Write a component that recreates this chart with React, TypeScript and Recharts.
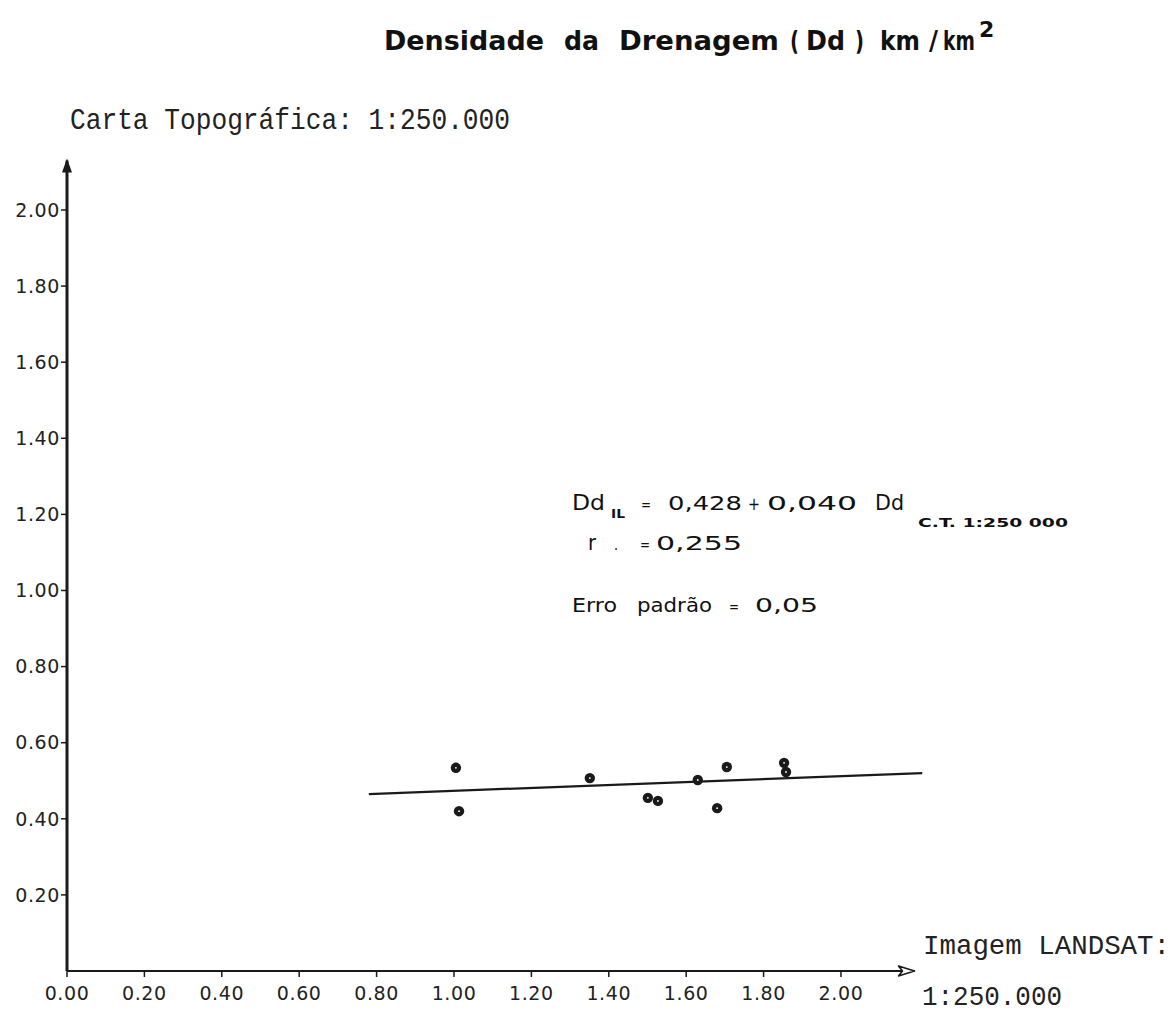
import React from 'react';
import {
    ScatterChart,
    Scatter,
    XAxis,
    YAxis,
    ReferenceLine,
    ReferenceDot
} from 'recharts';

// Dd Imagem LANDSAT (x) vs Dd Carta Topográfica (y)
const landsatDd = [1.005, 1.013, 1.351, 1.501, 1.527, 1.630, 1.705, 1.680, 1.853, 1.858];
const cartaDd = [0.534, 0.420, 0.507, 0.455, 0.447, 0.502, 0.536, 0.428, 0.547, 0.523];

// regression line endpoints
const fitX = [0.78, 2.21];
const fitY = [0.465, 0.52];

const xTicks = [0, 0.2, 0.4, 0.6, 0.8, 1.0, 1.2, 1.4, 1.6, 1.8, 2.0];
const yTicks = [0.2, 0.4, 0.6, 0.8, 1.0, 1.2, 1.4, 1.6, 1.8, 2.0];

const xMax = 2.19;
const yMax = 2.13;

const points = landsatDd.map((x, i) => ({ x, y: cartaDd[i] }));

const ink = '#1a1a1a';
const tickFont = { fontFamily: 'DejaVu Sans', fontSize: 19, fill: '#222', letterSpacing: 0.6 };

const Dot = (props: any) => {
    const { cx, cy } = props;
    return (
        <g>
            <circle cx={cx} cy={cy} r={5.2} fill={ink} />
            <circle cx={cx} cy={cy} r={0.9} fill="#fff" />
        </g>
    );
};

const UpArrow = (props: any) => {
    const { cx, cy } = props;
    return <path d={`M${cx},${cy - 2} L${cx - 5},${cy + 12} L${cx + 5},${cy + 12} Z`} fill={ink} />;
};

const RightArrow = (props: any) => {
    const { cx, cy } = props;
    return (
        <path
            d={`M${cx},${cy} L${cx - 16},${cy - 5} L${cx - 12},${cy} L${cx - 16},${cy + 5} Z`}
            fill="#fff"
            stroke={ink}
            strokeWidth={1.6}
            strokeLinejoin="round"
        />
    );
};

// piece of lettering fitted to the width it has in the drawing
const Word = ({ x, y, w, size, bold, children }: any) => (
    <text
        x={x}
        y={y}
        fontSize={size}
        fontWeight={bold ? 'bold' : 'normal'}
        textLength={w}
        lengthAdjust="spacingAndGlyphs"
        fontFamily="DejaVu Sans"
        fill="#111"
    >
        {children}
    </text>
);

export default function App() {
    const mono = { fontFamily: 'Liberation Mono', fill: '#222' };

    return (
        <div style={{ margin: -8, width: 1173, height: 1014, position: 'relative', background: '#fff' }}>
            <ScatterChart
                width={1173}
                height={1014}
                margin={{ top: 160.5, right: 258.5, bottom: 14, left: 0 }}
            >
                <XAxis
                    type="number"
                    dataKey="x"
                    domain={[0, xMax]}
                    allowDataOverflow
                    ticks={xTicks}
                    interval={0}
                    height={29}
                    tickFormatter={(v: number) => v.toFixed(2)}
                    tick={tickFont}
                    tickSize={6}
                    tickMargin={10}
                    axisLine={{ stroke: ink, strokeWidth: 2 }}
                    tickLine={{ stroke: ink, strokeWidth: 1.5 }}
                />
                <YAxis
                    type="number"
                    dataKey="y"
                    domain={[0, yMax]}
                    allowDataOverflow
                    ticks={yTicks}
                    interval={0}
                    width={67}
                    tickFormatter={(v: number) => v.toFixed(2)}
                    tick={tickFont}
                    tickSize={6}
                    tickMargin={1}
                    axisLine={{ stroke: ink, strokeWidth: 3 }}
                    tickLine={{ stroke: ink, strokeWidth: 1.5 }}
                />
                <ReferenceLine
                    segment={[{ x: fitX[0], y: fitY[0] }, { x: fitX[1], y: fitY[1] }]}
                    stroke={ink}
                    strokeWidth={2.2}
                    ifOverflow="visible"
                />
                <Scatter data={points} shape={<Dot />} isAnimationActive={false} />
                <ReferenceDot x={0} y={yMax} ifOverflow="visible" shape={<UpArrow />} />
                <ReferenceDot x={xMax} y={0} ifOverflow="visible" shape={<RightArrow />} />
            </ScatterChart>

            <svg
                width={1173}
                height={1014}
                style={{ position: 'absolute', left: 0, top: 0, pointerEvents: 'none' }}
            >
                {/* title */}
                <Word x={384} y={50} w={160} size={27} bold>Densidade</Word>
                <Word x={564} y={50} w={35} size={27} bold>da</Word>
                <Word x={619} y={50} w={160} size={27} bold>Drenagem</Word>
                <Word x={790} y={50} w={9} size={27} bold>(</Word>
                <Word x={806} y={50} w={39} size={27} bold>Dd</Word>
                <Word x={855} y={50} w={9} size={27} bold>)</Word>
                <Word x={880} y={50} w={40} size={27} bold>km</Word>
                <Word x={929} y={50} w={9} size={27} bold>/</Word>
                <text
                    transform="translate(943,50) scale(0.69,1)"
                    fontSize={27}
                    fontWeight="bold"
                    fontFamily="DejaVu Sans"
                    fill="#111"
                >
                    km
                </text>
                <text x={979} y={37} fontSize={22} fontWeight="bold" fontFamily="DejaVu Sans" fill="#111">2</text>

                <text x={70} y={129} fontSize={29} textLength={440} lengthAdjust="spacingAndGlyphs" {...mono}>
                    Carta Topográfica: 1:250.000
                </text>
                <text x={923} y={954} fontSize={27} textLength={247} lengthAdjust="spacingAndGlyphs" {...mono}>
                    Imagem LANDSAT:
                </text>
                <text x={922} y={1005} fontSize={27} textLength={140} lengthAdjust="spacingAndGlyphs" {...mono}>
                    1:250.000
                </text>

                {/* regression statistics */}
                <Word x={572} y={510} w={33} size={21}>Dd</Word>
                <Word x={611} y={518} w={14} size={12} bold>IL</Word>
                <Word x={641} y={510} w={10} size={16}>=</Word>
                <Word x={668} y={510} w={74} size={20}>0,428</Word>
                <Word x={748} y={510} w={12} size={18}>+</Word>
                <Word x={767} y={510} w={90} size={20}>0,040</Word>
                <Word x={875} y={510} w={29} size={21}>Dd</Word>
                <Word x={918} y={527} w={150} size={13} bold>C.T. 1:250 000</Word>

                <Word x={588} y={550} w={8} size={21}>r</Word>
                <Word x={614} y={550} w={4} size={16}>.</Word>
                <Word x={640} y={550} w={10} size={16}>=</Word>
                <Word x={656} y={550} w={86} size={20}>0,255</Word>

                <Word x={572} y={612} w={45} size={20}>Erro</Word>
                <Word x={637} y={612} w={75} size={20}>padrão</Word>
                <Word x={729} y={612} w={10} size={16}>=</Word>
                <Word x={755} y={612} w={63} size={20}>0,05</Word>
            </svg>
        </div>
    );
}
